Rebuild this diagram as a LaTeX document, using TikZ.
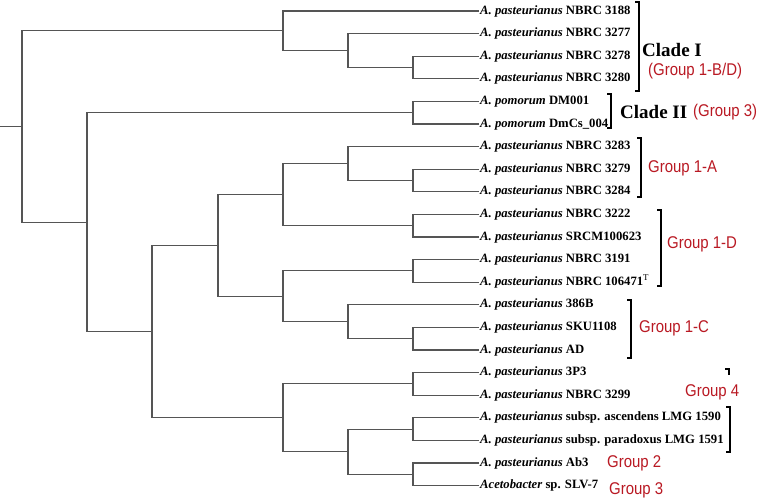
\documentclass[tikz,border=0pt]{standalone}
\usepackage{fontspec}
\setmainfont{Liberation Serif}
\newfontfamily\grpfont[FakeStretch=0.88]{Liberation Sans}
\usetikzlibrary{positioning}
\definecolor{grpred}{RGB}{185,25,35}
\definecolor{twiggray}{RGB}{85,85,85}
\newcommand{\apast}{\textit{A. pasteurianus}}

\begin{document}
\begin{tikzpicture}[x=1pt, y=-1pt, node distance=22.6pt,
  leaf/.style = {anchor=west, inner sep=1pt, text height=9pt, text depth=3pt, font=\bfseries\fontsize{12.7}{14}\selectfont},
  clade/.style = {anchor=west, inner sep=0pt, font=\bfseries\fontsize{19}{22}\selectfont},
  group/.style = {anchor=west, inner sep=0pt, text=grpred, font=\grpfont\fontsize{17}{20}\selectfont},
  twig/.style = {draw=twiggray, line width=1.1pt},
  brk/.style = {draw=black, line width=1.4pt}]
\useasboundingbox (0,0) rectangle (760,501);

% leaves
\node[leaf] (l1) at (479,11) {\apast{} NBRC 3188};
\node[leaf] (l2) [below=of l1.west, anchor=west] {\apast{} NBRC 3277};
\node[leaf] (l3) [below=of l2.west, anchor=west] {\apast{} NBRC 3278};
\node[leaf] (l4) [below=of l3.west, anchor=west] {\apast{} NBRC 3280};
\node[leaf] (l5) [below=of l4.west, anchor=west] {\textit{A. pomorum} DM001};
\node[leaf] (l6) [below=of l5.west, anchor=west] {\textit{A. pomorum} DmCs\_004};
\node[leaf] (l7) [below=of l6.west, anchor=west] {\apast{} NBRC 3283};
\node[leaf] (l8) [below=of l7.west, anchor=west] {\apast{} NBRC 3279};
\node[leaf] (l9) [below=of l8.west, anchor=west] {\apast{} NBRC 3284};
\node[leaf] (l10) [below=of l9.west, anchor=west] {\apast{} NBRC 3222};
\node[leaf] (l11) [below=of l10.west, anchor=west] {\apast{} SRCM100623};
\node[leaf] (l12) [below=of l11.west, anchor=west] {\apast{} NBRC 3191};
\node[leaf] (l13) [below=of l12.west, anchor=west] {\apast{} NBRC 106471{\mdseries\textsuperscript{T}}};
\node[leaf] (l14) [below=of l13.west, anchor=west] {\apast{} 386B};
\node[leaf] (l15) [below=of l14.west, anchor=west] {\apast{} SKU1108};
\node[leaf] (l16) [below=of l15.west, anchor=west] {\apast{} AD};
\node[leaf] (l17) [below=of l16.west, anchor=west] {\apast{} 3P3};
\node[leaf] (l18) [below=of l17.west, anchor=west] {\apast{} NBRC 3299};
\node[leaf] (l19) [below=of l18.west, anchor=west] {\apast{} subsp. ascendens LMG 1590};
\node[leaf] (l20) [below=of l19.west, anchor=west] {\apast{} subsp. paradoxus LMG 1591};
\node[leaf] (l21) [below=of l20.west, anchor=west] {\apast{} Ab3};
\node[leaf] (l22) [below=of l21.west, anchor=west] {\textit{Acetobacter} sp. SLV-7};

% inner nodes
\coordinate (stub) at (0,126.5);
\coordinate (root) at (22,126.5);
\coordinate (na) at (283,30.8);
\coordinate (nb) at (348,50.55);
\coordinate (nc) at (413,67.5);
\coordinate (nd) at (87,222.2);
\coordinate (np) at (413,112.7);
\coordinate (ne) at (152,331.6);
\coordinate (nf) at (218,245.5);
\coordinate (ng) at (283,194.6);
\coordinate (nh) at (348,163.55);
\coordinate (ni) at (413,180.5);
\coordinate (nj) at (413,225.7);
\coordinate (nk) at (283,296.3);
\coordinate (nq) at (413,270.9);
\coordinate (nl) at (348,321.75);
\coordinate (nr) at (413,338.7);
\coordinate (nm) at (283,417.8);
\coordinate (ns) at (413,383.9);
\coordinate (nn) at (348,451.7);
\coordinate (nt) at (413,429.1);
\coordinate (nu) at (413,474.3);

% branches
\draw[twig] (stub) -- (root);
\draw[twig] (root) |- (na);
\draw[twig] (root) |- (nd);
\draw[twig] (na) |- (l1.west);
\draw[twig] (na) |- (nb);
\draw[twig] (nb) |- (l2.west);
\draw[twig] (nb) |- (nc);
\draw[twig] (nc) |- (l3.west);
\draw[twig] (nc) |- (l4.west);
\draw[twig] (nd) |- (np);
\draw[twig] (nd) |- (ne);
\draw[twig] (np) |- (l5.west);
\draw[twig] (np) |- (l6.west);
\draw[twig] (ne) |- (nf);
\draw[twig] (ne) |- (nm);
\draw[twig] (nf) |- (ng);
\draw[twig] (nf) |- (nk);
\draw[twig] (ng) |- (nh);
\draw[twig] (ng) |- (nj);
\draw[twig] (nh) |- (l7.west);
\draw[twig] (nh) |- (ni);
\draw[twig] (ni) |- (l8.west);
\draw[twig] (ni) |- (l9.west);
\draw[twig] (nj) |- (l10.west);
\draw[twig] (nj) |- (l11.west);
\draw[twig] (nk) |- (nq);
\draw[twig] (nk) |- (nl);
\draw[twig] (nq) |- (l12.west);
\draw[twig] (nq) |- (l13.west);
\draw[twig] (nl) |- (l14.west);
\draw[twig] (nl) |- (nr);
\draw[twig] (nr) |- (l15.west);
\draw[twig] (nr) |- (l16.west);
\draw[twig] (nm) |- (ns);
\draw[twig] (nm) |- (nn);
\draw[twig] (ns) |- (l17.west);
\draw[twig] (ns) |- (l18.west);
\draw[twig] (nn) |- (nt);
\draw[twig] (nn) |- (nu);
\draw[twig] (nt) |- (l19.west);
\draw[twig] (nt) |- (l20.west);
\draw[twig] (nu) |- (l21.west);
\draw[twig] (nu) |- (l22.west);

% brackets
\draw[brk] (635,2) -- (639,2) -- (639,91) -- (635,91);
\draw[brk] (607,94) -- (611,94) -- (611,128) -- (607,128);
\draw[brk] (637,138) -- (641,138) -- (641,197) -- (637,197);
\draw[brk] (657,210) -- (661,210) -- (661,286) -- (657,286);
\draw[brk] (627,300) -- (631,300) -- (631,358) -- (627,358);
\draw[brk] (725,369) -- (729,369) -- (729,375);
\draw[brk] (726,407) -- (730,407) -- (730,452) -- (726,452);

% labels
\node[clade] (cl1) at (642,50) {Clade I};
\node[group] (g1bd) at (648,71) {(Group 1-B/D)};
\node[clade] (cl2) at (620,112) {Clade II};
\node[group] (g3a) at (693,112) {(Group 3)};
\node[group] (g1a) at (648,168) {Group 1-A};
\node[group] (g1d) at (667,244) {Group 1-D};
\node[group] (g1c) at (639,328) {Group 1-C};
\node[group] (g4) at (685,392) {Group 4};
\node[group] (g2) at (607,463) {Group 2};
\node[group] (g3b) at (609,490) {Group 3};
\end{tikzpicture}
\end{document}
